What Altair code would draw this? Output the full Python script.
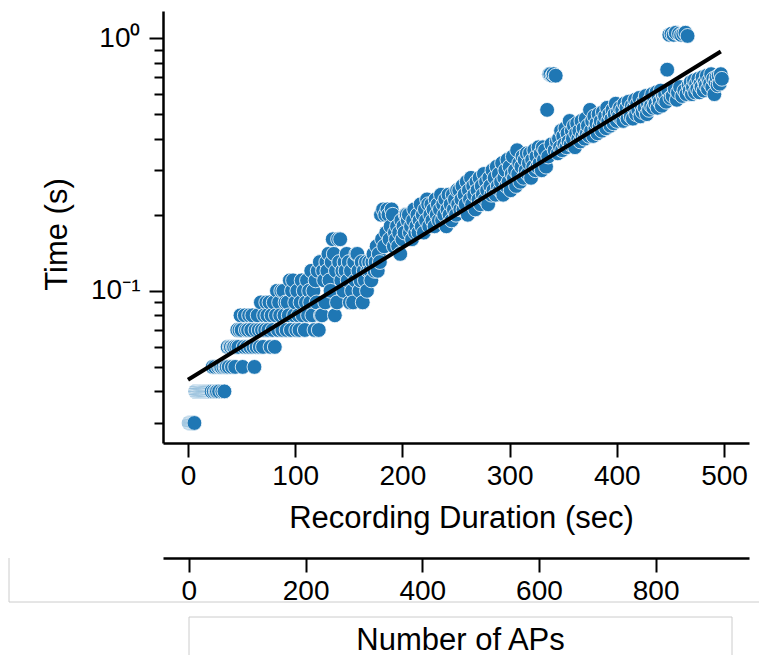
import altair as alt
import pandas as pd

# ---- data ----
# measured time (s) for each recording duration 1..498 s
time_s = [
    # 1-6
    0.03, 0.03, 0.03, 0.03, 0.03, 0.03,
    # 7-22
    0.04, 0.04, 0.04, 0.04, 0.04, 0.04, 0.04, 0.04, 0.04, 0.04, 0.04, 0.04, 0.04, 0.04, 0.04, 0.04,
    # 23-34
    0.05, 0.04, 0.05, 0.04, 0.04, 0.05, 0.04, 0.05, 0.05, 0.04, 0.05, 0.04,
    # 35-44
    0.05, 0.05, 0.06, 0.05, 0.06, 0.06, 0.05, 0.06, 0.06, 0.05,
    # 45-54
    0.06, 0.07, 0.06, 0.07, 0.08, 0.07, 0.05, 0.06, 0.08, 0.07,
    # 55-64
    0.06, 0.07, 0.08, 0.06, 0.07, 0.08, 0.06, 0.05, 0.07, 0.06,
    # 65-74
    0.08, 0.07, 0.06, 0.09, 0.07, 0.06, 0.08, 0.07, 0.09, 0.08,
    # 75-84
    0.07, 0.09, 0.06, 0.08, 0.07, 0.09, 0.06, 0.08, 0.10, 0.07,
    # 85-94
    0.09, 0.08, 0.10, 0.07, 0.10, 0.08, 0.09, 0.07, 0.09, 0.08,
    # 95-104
    0.11, 0.07, 0.10, 0.11, 0.08, 0.09, 0.07, 0.10, 0.08, 0.07,
    # 105-114
    0.09, 0.11, 0.08, 0.10, 0.07, 0.09, 0.11, 0.08, 0.10, 0.09,
    # 115-124
    0.12, 0.08, 0.10, 0.07, 0.11, 0.09, 0.12, 0.07, 0.13, 0.08,
    # 125-134
    0.08, 0.12, 0.11, 0.09, 0.13, 0.12, 0.14, 0.11, 0.10, 0.13,
    # 135-144
    0.16, 0.14, 0.08, 0.12, 0.09, 0.16, 0.13, 0.16, 0.11, 0.12,
    # 145-154
    0.10, 0.13, 0.12, 0.14, 0.11, 0.13, 0.09, 0.12, 0.10, 0.09,
    # 155-164
    0.13, 0.11, 0.14, 0.14, 0.12, 0.10, 0.11, 0.13, 0.09, 0.12,
    # 165-174
    0.11, 0.13, 0.10, 0.12, 0.13, 0.12, 0.11, 0.13, 0.14, 0.12,
    # 175-184
    0.13, 0.15, 0.12, 0.14, 0.13, 0.20, 0.16, 0.21, 0.15, 0.20,
    # 185-194
    0.17, 0.21, 0.20, 0.16, 0.18, 0.21, 0.20, 0.15, 0.17, 0.16,
    # 195-204
    0.18, 0.15, 0.17, 0.14, 0.19, 0.16, 0.18, 0.17, 0.20, 0.20,
    # 205-214
    0.19, 0.20, 0.17, 0.18, 0.16, 0.19, 0.21, 0.17, 0.18, 0.20,
    # 215-224
    0.17, 0.19, 0.22, 0.18, 0.20, 0.17, 0.21, 0.19, 0.23, 0.22,
    # 225-234
    0.18, 0.20, 0.22, 0.19, 0.21, 0.18, 0.23, 0.20, 0.22, 0.19,
    # 235-244
    0.21, 0.24, 0.19, 0.22, 0.20, 0.23, 0.18, 0.21, 0.24, 0.20,
    # 245-254
    0.22, 0.19, 0.24, 0.21, 0.23, 0.20, 0.25, 0.22, 0.25, 0.21,
    # 255-264
    0.23, 0.26, 0.21, 0.24, 0.22, 0.27, 0.20, 0.25, 0.23, 0.28,
    # 265-274
    0.22, 0.26, 0.24, 0.21, 0.27, 0.25, 0.23, 0.28, 0.22, 0.26,
    # 275-284
    0.24, 0.29, 0.23, 0.27, 0.25, 0.22, 0.28, 0.26, 0.24, 0.30,
    # 285-294
    0.25, 0.28, 0.24, 0.31, 0.26, 0.29, 0.25, 0.27, 0.32, 0.24,
    # 295-304
    0.28, 0.30, 0.26, 0.33, 0.27, 0.31, 0.25, 0.29, 0.34, 0.28,
    # 305-314
    0.30, 0.26, 0.36, 0.29, 0.32, 0.27, 0.31, 0.34, 0.28, 0.33,
    # 315-324
    0.30, 0.35, 0.29, 0.32, 0.35, 0.28, 0.33, 0.31, 0.36, 0.30,
    # 325-334
    0.34, 0.31, 0.37, 0.32, 0.35, 0.30, 0.37, 0.33, 0.36, 0.31,
    # 335-344
    0.52, 0.34, 0.72, 0.72, 0.38, 0.71, 0.72, 0.36, 0.71, 0.39,
    # 345-354
    0.35, 0.40, 0.37, 0.43, 0.36, 0.41, 0.38, 0.44, 0.37, 0.42,
    # 355-364
    0.39, 0.47, 0.38, 0.43, 0.40, 0.45, 0.37, 0.42, 0.46, 0.40,
    # 365-374
    0.43, 0.39, 0.47, 0.41, 0.44, 0.40, 0.48, 0.42, 0.45, 0.41,
    # 375-384
    0.52, 0.43, 0.47, 0.41, 0.49, 0.44, 0.46, 0.42, 0.50, 0.45,
    # 385-394
    0.47, 0.43, 0.51, 0.46, 0.49, 0.44, 0.53, 0.47, 0.50, 0.45,
    # 395-404
    0.48, 0.52, 0.46, 0.50, 0.55, 0.47, 0.51, 0.49, 0.53, 0.48,
    # 405-414
    0.52, 0.47, 0.55, 0.50, 0.53, 0.48, 0.56, 0.51, 0.49, 0.54,
    # 415-424
    0.48, 0.53, 0.57, 0.50, 0.55, 0.52, 0.58, 0.49, 0.54, 0.51,
    # 425-434
    0.56, 0.53, 0.59, 0.50, 0.55, 0.52, 0.57, 0.54, 0.60, 0.53,
    # 435-444
    0.57, 0.55, 0.61, 0.53, 0.58, 0.56, 0.62, 0.54, 0.59, 0.57,
    # 445-454
    0.60, 0.56, 0.75, 0.62, 1.03, 0.58, 1.04, 0.59, 1.03, 0.63,
    # 455-464
    1.05, 0.57, 0.61, 1.04, 0.64, 1.03, 0.59, 1.04, 0.62, 1.05,
    # 465-474
    0.60, 1.02, 0.65, 0.62, 0.67, 0.60, 0.64, 0.68, 0.61, 0.66,
    # 475-484
    0.63, 0.69, 0.61, 0.66, 0.64, 0.70, 0.62, 0.67, 0.65, 0.71,
    # 485-494
    0.63, 0.68, 0.66, 0.72, 0.64, 0.69, 0.60, 0.67, 0.70, 0.65,
    # 495-498
    0.71, 0.66, 0.72, 0.69,
]
duration_sec = list(range(1, len(time_s) + 1))

# fitted line (straight on the log axis)
fit_duration = [0, 497]
fit_time = [0.0445, 0.885]

x_ticks = [0, 100, 200, 300, 400, 500]
y_ticks = [0.03, 0.04, 0.05, 0.06, 0.07, 0.08, 0.09,
           0.1, 0.2, 0.3, 0.4, 0.5, 0.6, 0.7, 0.8, 0.9, 1.0]
ap_ticks = [0, 200, 400, 600, 800]

FONT = "Liberation Sans"
BLUE = "#1f77b4"
FRAME = "#cccccc"

pts = pd.DataFrame({"duration": duration_sec, "time": time_s})
fit = pd.DataFrame({"duration": fit_duration, "time": fit_time})
aps = pd.DataFrame({"aps": ap_ticks})
one = pd.DataFrame({"k": [0]})

xs = alt.Scale(domain=[-23.3, 523.3], nice=False, zero=False)
ys = alt.Scale(type="log", domain=[0.025, 1.28], nice=False)

x_axis = alt.Axis(values=x_ticks, title="Recording Duration (sec)", tickSize=14,
                  labelPadding=5, titleX=298, titleY=75, titleBaseline="middle",
                  labelFlush=False, grid=False)
y_axis = alt.Axis(
    values=y_ticks,
    labelExpr="datum.value == 1 ? '10⁰' : (datum.value == 0.1 ? '10⁻¹' : '')",
    tickSize={"condition": {"test": "datum.value == 1 || datum.value == 0.1", "value": 14},
              "value": 9},
    labelPadding=9, title="Time (s)", titleX=-106, titleY=223, titleAngle=270,
    titleBaseline="middle", labelFlush=False, labelOverlap=False, grid=False,
)

points = alt.Chart(pts).mark_circle(
    size=220, color=BLUE, opacity=1, stroke="white", strokeWidth=0.8
).encode(
    x=alt.X("duration:Q", scale=xs, axis=x_axis),
    y=alt.Y("time:Q", scale=ys, axis=y_axis),
)

line = alt.Chart(fit).mark_line(color="black", strokeWidth=4).encode(
    x=alt.X("duration:Q", scale=xs),
    y=alt.Y("time:Q", scale=ys),
)

main = alt.layer(points, line)

ap_layer = alt.Chart(aps).mark_point(opacity=0).encode(
    x=alt.X("aps:Q",
            scale=alt.Scale(domain=[-44.4, 960], nice=False, zero=False),
            axis=alt.Axis(orient="bottom", offset=115, values=ap_ticks,
                          title="Number of APs", tickSize=14, labelPadding=5,
                          titleX=297, titleY=82, titleBaseline="middle",
                          labelFlush=False, grid=False)),
)

frame_v = alt.Chart(one).mark_rule(color=FRAME, strokeWidth=1).encode(
    x=alt.value(-154), y=alt.value(547), y2=alt.value(591))
frame_h = alt.Chart(one).mark_rule(color=FRAME, strokeWidth=1).encode(
    x=alt.value(-154), x2=alt.value(612), y=alt.value(591))
frame_box = alt.Chart(one).mark_rect(fill=None, stroke=FRAME, strokeWidth=1).encode(
    x=alt.value(26), x2=alt.value(569), y=alt.value(606), y2=alt.value(700))

chart = alt.layer(main, ap_layer, frame_v, frame_h, frame_box).resolve_scale(
    x="independent"
).properties(
    width=586, height=432,
    background="white",
    autosize=alt.AutoSizeParams(type="none"),
    padding={"left": 155, "top": 3, "right": 10, "bottom": 212},
).configure_view(stroke=None).configure_axis(
    labelFont=FONT, labelFontSize=28, labelColor="black",
    titleFont=FONT, titleFontSize=31, titleFontWeight="normal", titleColor="black",
    domainColor="black", domainWidth=2.5, tickColor="black", tickWidth=2, grid=False,
)

chart.save("out.html", embed_options={"renderer": "svg", "actions": False})
